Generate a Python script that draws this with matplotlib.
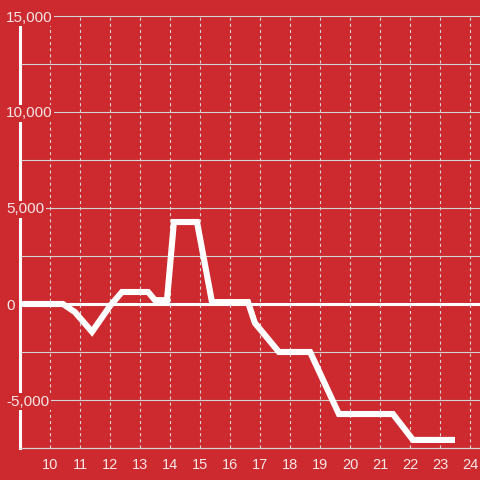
"""
Stepped white line on a red background, recreated with matplotlib.
"""
import matplotlib
matplotlib.use('Agg')
import matplotlib.pyplot as plt

# data
x_vals = [9.0, 10.43, 10.83, 11.4, 12.0, 12.4, 13.27, 13.5, 13.9, 14.13, 14.9,
          15.4, 16.6, 16.83, 17.63, 18.67, 19.63, 21.43, 22.1, 23.5]
y_vals = [0, 0, -420, -1450, -100, 625, 625, 200, 200, 4270, 4270,
          100, 100, -990, -2500, -2500, -5730, -5730, -7080, -7080]

x_ticks = list(range(10, 25))
y_grid = [-7500, -5000, -2500, 0, 2500, 5000, 7500, 10000, 12500, 15000]
y_labels = {15000: '15,000', 10000: '10,000', 5000: '5,000', 0: '0', -5000: '-5,000'}

red = '#cc2a2f'
grid_col = '#d4d4d4'
text_col = '#f2e6e6'

plt.rcParams['font.family'] = ['Liberation Sans', 'DejaVu Sans']
plt.rcParams['lines.scale_dashes'] = False

fig = plt.figure(figsize=(4.8, 4.8), dpi=100, facecolor=red)
ax = fig.add_axes([20 / 480, 32 / 480, 460 / 480, 432 / 480])
ax.set_facecolor(red)
ax.set_xlim(9, 9 + 460 / 30)
ax.set_ylim(-7500, 15000)

# horizontal grid
for y in y_grid:
    if y == 0:
        continue
    ax.axhline(y, color=grid_col, lw=0.8, zorder=1, clip_on=False)

# vertical dotted grid
for x in x_ticks:
    ax.axvline(x, color=grid_col, lw=0.8, ls=(0, (2.2, 2.2)), zorder=1)

# zero line
ax.axhline(0, color='white', lw=2.2, zorder=2)

ax.plot(x_vals, y_vals, color='white', lw=4.4, solid_joinstyle='miter',
        solid_capstyle='butt', zorder=4)

for s in ['top', 'right']:
    ax.spines[s].set_visible(False)
ax.spines['left'].set_color('white')
ax.spines['left'].set_linewidth(2.2)
ax.spines['bottom'].set_color(grid_col)
ax.spines['bottom'].set_linewidth(0.8)

ax.set_xticks(x_ticks)
ax.set_xticklabels([str(x) for x in x_ticks])
ax.tick_params(axis='x', length=0, pad=7, labelsize=10.5, labelcolor=text_col)
ax.set_yticks([])

for y, lab in y_labels.items():
    ax.text(-14 / 460, y, lab, transform=ax.get_yaxis_transform(),
            ha='left', va='center_baseline', fontsize=11, color=text_col, zorder=6,
            bbox=dict(facecolor=red, edgecolor='none', pad=1.2))

plt.savefig('out.png', dpi=100, facecolor=red)
